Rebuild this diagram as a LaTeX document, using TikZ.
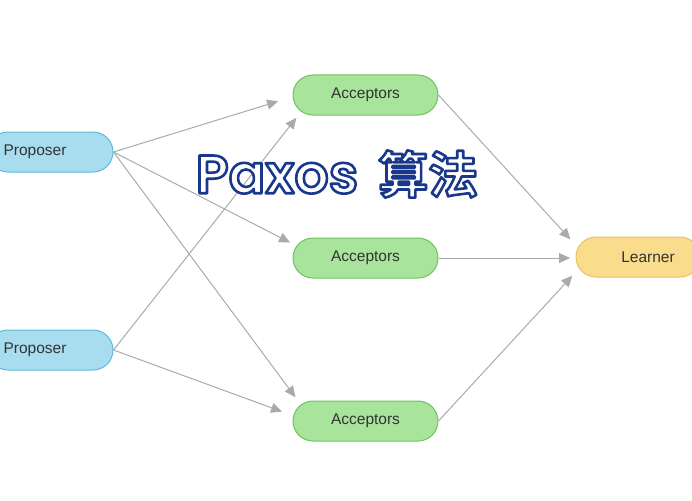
\documentclass[tikz,border=0pt]{standalone}
\usepackage{fontspec}
\setmainfont{Liberation Sans}
\newfontfamily\cjk{Noto Sans CJK SC Bold}
\newfontfamily\pop{Poppins SemiBold}
\usetikzlibrary{arrows.meta}
\definecolor{pfill}{HTML}{A8DDF0}\definecolor{pdraw}{HTML}{5DB9DA}
\definecolor{afill}{HTML}{A9E49C}\definecolor{adraw}{HTML}{6CC35E}
\definecolor{lfill}{HTML}{F9DD8C}\definecolor{ldraw}{HTML}{E6C15F}
\definecolor{edge}{HTML}{AAAAAA}\definecolor{txt}{HTML}{333333}
\begin{document}
\begin{tikzpicture}[x=1pt,y=-1pt,
  box/.style={rounded corners=20pt,line width=1pt,minimum height=40pt,text=txt,font=\fontsize{15.5}{18}\selectfont,inner sep=0pt},
  prop/.style={box,fill=pfill,draw=pdraw,minimum width=125pt},
  acc/.style={box,fill=afill,draw=adraw,minimum width=145pt},
  lrn/.style={box,fill=lfill,draw=ldraw,minimum width=124pt},
  arr/.style={draw=edge,line width=1pt,-{Triangle[length=11pt,width=10pt]},shorten >=1pt}]
\useasboundingbox (0,0) rectangle (692,500);
\node[prop] (p1) at (50.5,152) {};
\node[prop] (p2) at (50.5,350) {};
\node[text=txt,font=\fontsize{15.5}{18}\selectfont,anchor=west] (p1t) at (0,152) {Proposer};
\node[text=txt,font=\fontsize{15.5}{18}\selectfont,anchor=west] (p2t) at (0,350) {Proposer};
\node[acc] (a1) at (365.5,95) {Acceptors};
\node[acc] (a2) at (365.5,258) {Acceptors};
\node[acc] (a3) at (365.5,421) {Acceptors};
\node[lrn] (l) at (638,257) {\hspace*{20pt}Learner};
\coordinate (t11) at (279,101); \coordinate (t12) at (291,243); \coordinate (t13) at (296,398);
\coordinate (t21) at (297,117); \coordinate (t23) at (283,412);
\coordinate (tl1) at (571,240); \coordinate (tl2) at (571,258); \coordinate (tl3) at (573,275);
\draw[arr] (p1.east) -- (t11);
\draw[arr] (p1.east) -- (t12);
\draw[arr] (p1.east) -- (t13);
\draw[arr] (p2.east) -- (t21);
\draw[arr] (p2.east) -- (t23);
\draw[arr] (a1.east) -- (tl1);
\draw[arr] (a2.east) -- (tl2);
\draw[arr] (a3.east) -- (tl3);
\node[inner sep=0pt] (title) at (337,174)
  {\color{white}\special{pdf:literal 2 Tr 2.6 w 1 J 1 j 0.1 0.22 0.55 RG}{\pop\fontsize{54}{58}\selectfont Paxos}\hspace{20pt}{\cjk\fontsize{50}{54}\selectfont 算法}\special{pdf:literal 0 Tr}};
\end{tikzpicture}
\end{document}
